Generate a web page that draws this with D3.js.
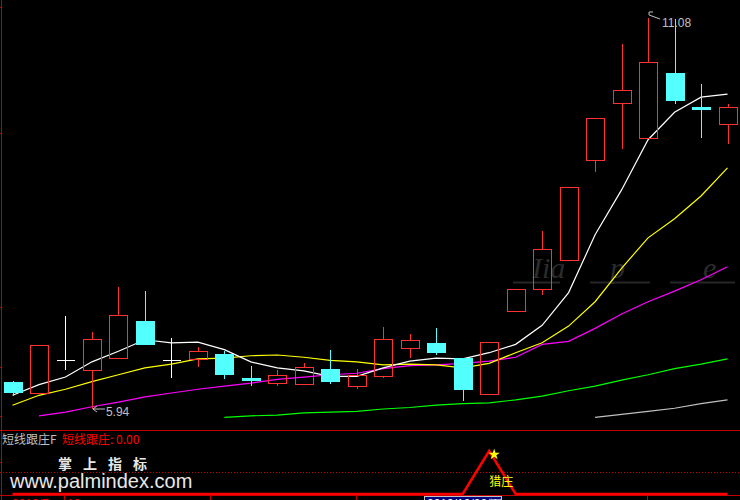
<!DOCTYPE html>
<html><head><meta charset="utf-8">
<script src="https://cdn.jsdelivr.net/npm/d3@7"></script>
<style>html,body{margin:0;padding:0;background:#000;overflow:hidden}svg{display:block}</style>
</head><body><svg id="c" width="740" height="500"></svg>
<script>
// ---- data ----
const opens  = [6.30,6.15,6.59,6.45,6.61,7.10,6.59,6.60,6.66,6.35,6.28,6.27,6.47,6.24,6.37,6.74,6.81,6.61,6.14,7.23,7.52,7.90,9.21,9.96,9.50,10.36,9.91,9.69];
const highs  = [6.31,6.78,7.16,6.95,7.54,7.49,6.87,6.75,6.70,6.51,6.45,6.54,6.72,6.47,7.02,6.93,7.00,6.61,6.82,7.52,8.28,8.86,9.77,10.74,11.08,11.07,10.21,9.95];
const lows   = [6.11,6.15,6.45,5.94,6.61,6.78,6.35,6.49,6.33,6.24,6.24,6.27,6.27,6.20,6.35,6.61,6.65,6.05,6.14,7.23,7.44,7.90,9.06,9.36,9.50,9.95,9.50,9.42];
const closes = [6.15,6.78,6.59,6.86,7.18,6.78,6.59,6.70,6.39,6.31,6.39,6.49,6.30,6.39,6.86,6.85,6.68,6.19,6.82,7.52,8.04,8.86,9.77,10.13,10.50,9.99,9.87,9.91];
const ma5    = [6.12,6.26,6.36,6.56,6.70,6.85,6.81,6.82,6.72,6.56,6.48,6.44,6.37,6.37,6.48,6.57,6.61,6.60,6.68,6.79,7.04,7.47,8.23,8.82,9.48,9.84,10.04,10.08];
const ma10   = [5.99,6.12,6.20,6.30,6.39,6.48,6.53,6.60,6.61,6.64,6.65,6.62,6.58,6.56,6.52,6.53,6.52,6.48,6.54,6.68,6.81,7.03,7.35,7.79,8.19,8.44,8.74,9.11];
const ma20   = [null,5.85,5.90,5.97,6.03,6.10,6.15,6.20,6.24,6.28,6.33,6.36,6.39,6.41,6.47,6.51,6.52,6.54,6.57,6.62,6.79,6.83,7.00,7.19,7.35,7.49,7.64,7.81];
const ma60   = [null,null,null,null,null,null,null,null,5.83,5.85,5.86,5.89,5.90,5.91,5.94,5.96,5.99,6.01,6.02,6.06,6.11,6.18,6.24,6.32,6.39,6.47,6.53,6.60];
const ma120  = [null,null,null,null,null,null,null,null,null,null,null,null,null,null,null,null,null,null,null,null,null,null,5.83,5.87,5.91,5.95,6.01,6.06];
const signal = [0,0,0,0,0,0,0,0,0,0,0,0,0,0,0,0,0,0,1,0,0,0,0,0,0,0,0,0];
const priceTicks = [11.22,9.57,7.28,6.49,5.85];
const hiLabel = "11.08", loLabel = "5.94";
const indName = "短线跟庄F", indValue = "短线跟庄: 0.00", tag = "猎庄";

const svg = d3.select("#c");
svg.append("rect").attr("width",740).attr("height",500).attr("fill","#000");

const idx = d3.range(opens.length);
const x = d3.scaleLinear().domain([0, opens.length-1]).range([12.5, 727.5]);
const y = d3.scaleLinear().domain([5.94, 11.08]).range([409, 18]);
const yi = d3.scaleLinear().domain([0, 1]).range([494, 451]);
const px = v => Math.round(v) + 0.5;

// watermark (faint)
const wm = svg.append("g").attr("fill","#2c2c2c").attr("font-family","Liberation Serif, serif")
  .attr("font-style","italic").attr("font-size",30);
wm.append("text").attr("x",532).attr("y",278).text("Iia");
wm.append("text").attr("x",610).attr("y",278).text("p");
wm.append("text").attr("x",703).attr("y",278).text("e");
[[513,560],[590,650],[670,735]].forEach(([a,b])=>
  svg.append("line").attr("x1",a).attr("x2",b).attr("y1",282.5).attr("y2",282.5)
    .attr("stroke","#262626").attr("stroke-width",2));

// axes frame
const axisRed = "#c00000";
svg.append("line").attr("x1",1.5).attr("x2",1.5).attr("y1",0).attr("y2",500).attr("stroke",axisRed);
svg.append("line").attr("x1",0).attr("x2",740).attr("y1",430.5).attr("y2",430.5).attr("stroke",axisRed);
svg.append("line").attr("x1",0).attr("x2",740).attr("y1",495.5).attr("y2",495.5).attr("stroke",axisRed);
svg.selectAll(".ptick").data(priceTicks).join("line")
  .attr("x1",0).attr("x2",2).attr("y1",d=>px(y(d))).attr("y2",d=>px(y(d))).attr("stroke",axisRed);
svg.append("line").attr("x1",0).attr("x2",2).attr("y1",462.5).attr("y2",462.5).attr("stroke",axisRed);
// dotted mid line of lower panel
svg.append("line").attr("x1",0).attr("x2",740).attr("y1",472.5).attr("y2",472.5)
  .attr("stroke","#c00000").attr("stroke-dasharray","1,2");

// moving averages
const line = d3.line().defined(d=>d.v!=null).x(d=>x(d.i)).y(d=>y(d.v));
[[ma120,"#c0c0c0"],[ma60,"#00ff00"],[ma20,"#ff00ff"],[ma10,"#ffff00"],[ma5,"#ffffff"]].forEach(([arr,col])=>{
  svg.append("path").datum(arr.map((v,i)=>({i,v}))).attr("d",line)
    .attr("fill","none").attr("stroke",col).attr("stroke-width",1.2);
});

// candles
const up = "#ff3232", dn = "#54ffff";
const g = svg.append("g").attr("shape-rendering","crispEdges");
idx.forEach(i=>{
  const o=opens[i], c=closes[i], h=highs[i], l=lows[i];
  const cx = px(x(i));
  const top = Math.min(y(o),y(c)), bot = Math.max(y(o),y(c));
  if (o===c){
    g.append("line").attr("x1",cx).attr("x2",cx).attr("y1",y(h)).attr("y2",y(l)).attr("stroke","#fff");
    g.append("line").attr("x1",cx-9).attr("x2",cx+9).attr("y1",px(y(o))).attr("y2",px(y(o))).attr("stroke","#fff");
  } else if (c>o){
    if (y(h)<top) g.append("line").attr("x1",cx).attr("x2",cx).attr("y1",y(h)).attr("y2",top).attr("stroke",up);
    if (y(l)>bot) g.append("line").attr("x1",cx).attr("x2",cx).attr("y1",bot).attr("y2",y(l)).attr("stroke",up);
    g.append("rect").attr("x",cx-9).attr("y",Math.round(top)+0.5).attr("width",18)
      .attr("height",Math.max(1,Math.round(bot)-Math.round(top))).attr("fill","none").attr("stroke",up).attr("stroke-width",1.5);
  } else {
    g.append("line").attr("x1",cx).attr("x2",cx).attr("y1",y(h)).attr("y2",y(l)).attr("stroke",dn);
    g.append("rect").attr("x",cx-9.5).attr("y",Math.round(top)).attr("width",19)
      .attr("height",Math.max(2,Math.round(bot)-Math.round(top))).attr("fill",dn);
  }
});

// high / low markers
const hiI = highs.indexOf(d3.max(highs)), loI = lows.indexOf(d3.min(lows));
svg.append("path").attr("d",`M${x(hiI)+1},${y(highs[hiI])-3} l0,-3 l4,0 M${x(hiI)+1},${y(highs[hiI])-3} l11,4`)
  .attr("stroke","#c0c0c0").attr("fill","none");
svg.append("text").attr("x",x(hiI)+14).attr("y",y(highs[hiI])+9).attr("fill","#c0c0c0")
  .attr("font-family","Liberation Sans, Arial, sans-serif").attr("font-size",12).text(hiLabel);
svg.append("path").attr("d",`M${x(loI)+1},${y(lows[loI])} l12,0 M${x(loI)+1},${y(lows[loI])} l4,-3 M${x(loI)+1},${y(lows[loI])} l4,3`)
  .attr("stroke","#c0c0c0").attr("fill","none");
svg.append("text").attr("x",x(loI)+14).attr("y",y(lows[loI])+7).attr("fill","#c0c0c0")
  .attr("font-family","Liberation Sans, Arial, sans-serif").attr("font-size",12).text(loLabel);

// lower panel
svg.append("text").attr("x",2).attr("y",444).attr("fill","#c0c0c0")
  .attr("font-family","Noto Sans CJK SC, sans-serif").attr("font-size",12).text(indName);
svg.append("text").attr("x",62).attr("y",444).attr("fill","#ff0000")
  .attr("font-family","Noto Sans CJK SC, sans-serif").attr("font-size",12).text(indValue);
svg.append("text").attr("x",58).attr("y",469).attr("fill","#e8e8e8").attr("font-weight","bold")
  .attr("letter-spacing",11).attr("font-family","Noto Sans CJK SC, sans-serif").attr("font-size",14).text("掌上指标");
svg.append("text").attr("x",10).attr("y",488).attr("fill","#e8e8e8")
  .attr("font-family","Liberation Sans, Arial, sans-serif").attr("font-size",20).text("www.palmindex.com");

const lineI = d3.line().x((d,i)=>x(i)).y(d=>yi(d));
svg.append("path").datum(signal).attr("d",lineI).attr("fill","none").attr("stroke","#ff0000").attr("stroke-width",2.5);
const sI = signal.indexOf(1);
svg.append("path").attr("d",d3.symbol(d3.symbolStar,40)())
  .attr("transform",`translate(${x(sI)+5},${yi(1)+3.5})`).attr("fill","#ffff00");
svg.append("text").attr("x",x(sI)).attr("y",486).attr("fill","#ffff00")
  .attr("font-family","Noto Sans CJK SC, sans-serif").attr("font-size",12).text(tag);

// bottom date axis (mostly cut off, as in the reference)
[64,210,356,647].forEach(t=>svg.append("line").attr("x1",t+0.5).attr("x2",t+0.5).attr("y1",495).attr("y2",500).attr("stroke",axisRed));
svg.append("rect").attr("x",424.5).attr("y",496.5).attr("width",77).attr("height",8).attr("fill","#000080").attr("stroke","#c0c0c0");
svg.append("text").attr("x",427).attr("y",508).attr("fill","#ffffff").attr("font-family","Liberation Sans, Arial, sans-serif").attr("font-size",12).text("2019/10/22/五");
svg.append("text").attr("x",12).attr("y",508).attr("fill","#ff0000").attr("font-family","Liberation Sans, Arial, sans-serif").attr("font-size",12).text("2019/7");
svg.append("text").attr("x",67).attr("y",508).attr("fill","#ff0000").attr("font-family","Liberation Sans, Arial, sans-serif").attr("font-size",12).text("10");
</script></body></html>
